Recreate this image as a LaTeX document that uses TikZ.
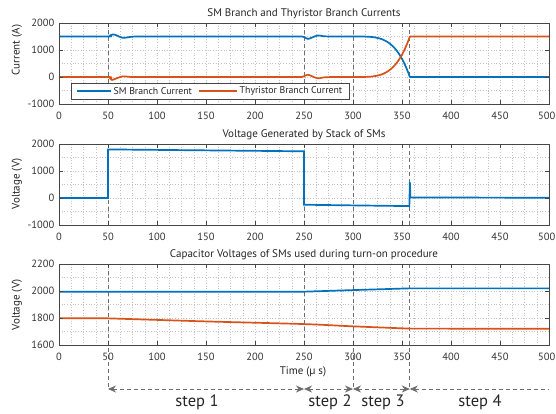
\documentclass[tikz,border=0pt]{standalone}
\usepackage{fontspec}
\setmainfont{PT Sans}
\usetikzlibrary{arrows.meta}
\definecolor{mblue}{RGB}{0,114,189}
\definecolor{morange}{RGB}{217,83,25}
\definecolor{axgray}{RGB}{70,70,70}
\definecolor{gridgray}{RGB}{195,195,195}
\definecolor{dashgray}{RGB}{110,110,110}
\newcommand\mygrid[2]{%
  \pgfmathsetmacro\dy{(#2-#1)/6}
  \foreach \i in {1,...,39} \draw[gridline] ({59+\i*12.25},#1) -- ({59+\i*12.25},#2);
  \foreach \j in {1,...,5} \draw[gridline] (59,{#1+\j*\dy}) -- (549,{#1+\j*\dy});
}
\newcommand\mybox[4]{%
  \pgfmathsetmacro\dy{(#2-#1)/6}
  \foreach \i in {1,...,9} {
    \draw[axline] ({59+\i*49},#1) -- ++(0,4);
    \draw[axline] ({59+\i*49},#2) -- ++(0,-4);}
  \foreach \j in {1,2} {
    \draw[axline] (59,{#1+2*\j*\dy}) -- ++(4,0);
    \draw[axline] (549,{#1+2*\j*\dy}) -- ++(-4,0);}
  \foreach \v [count=\k from 0] in {0,50,100,150,200,250,300,350,400,450}
    \node[ticklab, anchor=base] (#3x\k) at ({59+\k*49},{#2+15.5}) {\v};
  \node[ticklab, anchor=base east] (#3x10) at (555.5,{#2+15.5}) {500};
  \foreach \v [count=\k from 0] in {#4}
    \node[ticklab, anchor=east] (#3y\k) at (54.5,{#2-2*\k*\dy}) {\v};
  \draw[axline] (59,#1) rectangle (549,#2);
}
\begin{document}
\begin{tikzpicture}[x=1pt,y=-1pt,
  gridline/.style={draw=gridgray, line width=0.45pt, dash pattern=on 0.7pt off 2pt},
  axline/.style={draw=axgray, line width=0.7pt},
  vdash/.style={draw=dashgray, line width=0.8pt, dash pattern=on 4pt off 3pt},
  curve/.style={line width=1.7pt, line join=round},
  ticklab/.style={font=\fontsize{10.5}{12}\selectfont, text=black!80, inner sep=0pt},
  titlelab/.style={font=\fontsize{11}{13}\selectfont, text=black!85, inner sep=0pt},
  ylab/.style={font=\fontsize{11}{13}\selectfont, text=black!85, inner sep=0pt, rotate=90},
  leglab/.style={font=\fontsize{9.8}{11}\selectfont, text=black!85, inner sep=0pt, anchor=west},
  steplab/.style={font=\fontsize{16.5}{18}\selectfont, text=black!85, inner sep=0pt},
  steparrow/.style={draw=dashgray, line width=0.8pt, dash pattern=on 4pt off 3pt,
    arrows={-}, >={Stealth[length=8pt,width=7pt,fill=dashgray]}}
]
\useasboundingbox (0,0) rectangle (556,413);
\fill[white] (0,0) rectangle (556,413);

% ---------- grids ----------
\mygrid{23}{104}
\mygrid{144}{225}
\mygrid{264}{345}

% ---------- dashed step lines ----------
\foreach \t in {50,250,300,358} {
  \draw[vdash] ({59+0.98*\t},23) -- ({59+0.98*\t},104);
  \draw[vdash] ({59+0.98*\t},144) -- ({59+0.98*\t},225);
}
\coordinate (s0) at (108,389);
\coordinate (s1) at (304,389);
\coordinate (s2) at (353,389);
\coordinate (s3) at (409.8,389);
\coordinate (s4) at (549,389);
\draw[vdash] (108,264) -- (s0);
\draw[vdash] (304,264) -- (304,345);
\draw[vdash] (353,264) -- (s2);
\draw[vdash] (409.8,264) -- (s3);

% ---------- plot 1 curves ----------
\begin{scope}[shift={(59,77)}, xscale=0.98, yscale=-0.027]
  \draw[curve, mblue] plot[smooth, tension=0.5] coordinates {(0,1500) (50,1500) (52,1540) (55,1580) (59,1540) (65,1450) (72,1480) (80,1500) (120,1500)}
    -- (248,1500) plot[smooth, tension=0.5] coordinates {(248,1500) (250,1480) (254,1410) (258,1460) (264,1540) (270,1510) (278,1500)}
    -- (300,1500) -- plot[domain=300:358, samples=50] (\x,{1500*(1-((\x-300)/58)^4)}) -- (500,0);
  \draw[curve, morange] plot[smooth, tension=0.5] coordinates {(0,0) (50,0) (52,-50) (54,-110) (58,-60) (65,25) (72,5) (80,0) (120,0)}
    -- (248,0) plot[smooth, tension=0.5] coordinates {(248,0) (250,30) (254,85) (258,30) (264,-50) (270,-15) (278,0)}
    -- (300,0) -- plot[domain=300:358, samples=50] (\x,{1500*((\x-300)/58)^4}) -- (500,1500);
\end{scope}

% ---------- plot 2 curve ----------
\begin{scope}[shift={(59,198)}, xscale=0.98, yscale=-0.027]
  \draw[curve, mblue, line join=miter] (0,0) -- (50,0) -- (50,1800) -- (250,1730) -- (250,-250)
    -- (357.5,-300) -- (358,600) -- (358.6,20) -- (500,10);
\end{scope}

% ---------- plot 3 curves ----------
\begin{scope}[shift={(59,345)}, xscale=0.98, yscale=-0.1333]
  \draw[curve, mblue] (0,400) -- (250,400) plot[smooth, tension=0.4] coordinates {(250,400) (300,412) (358,425)} -- (500,425);
  \draw[curve, morange] (0,200) -- (50,200) plot[smooth, tension=0.5] coordinates {(50,200) (150,177) (250,157) (300,140) (358,123)} -- (500,122);
\end{scope}

% ---------- boxes, ticks, labels ----------
\mybox{23}{104}{a}{-1000,0,1000,2000}
\mybox{144}{225}{b}{-1000,0,1000,2000}
\mybox{264}{345}{c}{1600,1800,2000,2200}

\node[titlelab] (t1) at (304,13.5) {SM Branch and Thyristor Branch Currents};
\node[titlelab] (t2) at (304,135) {Voltage Generated by Stack of SMs};
\node[titlelab] (t3) at (304,255) {Capacitor Voltages of SMs used during turn-on procedure};
\node[ylab] (l1) at (17,50) {Current (A)};
\node[ylab] (l2) at (17,184) {Voltage (V)};
\node[ylab] (l3) at (17,305) {Voltage (V)};
\node[titlelab] (tx) at (303,372) {Time (µ s)};

% ---------- legend ----------
\node[draw=axgray, line width=0.6pt, fill=white, minimum width=278pt, minimum height=16pt, inner sep=0pt] (legend) at (210,91) {};
\coordinate (lb0) at (77,91); \coordinate (lb1) at (111,91);
\coordinate (lo0) at (199,91); \coordinate (lo1) at (237,91);
\draw[curve, mblue] (lb0) -- (lb1);
\node[leglab] (lbt) at (113.5,91) {SM Branch Current};
\draw[curve, morange] (lo0) -- (lo1);
\node[leglab] (lot) at (239.5,91) {Thyristor Branch Current};

% ---------- step arrows ----------
\draw[steparrow, <->] (s0) -- (s1);
\draw[steparrow, <->] (s1) -- (s2);
\draw[steparrow, <->] (s2) -- (s3);
\draw[steparrow, <-] (s3) -- (s4);
\node[steplab] (st1) at (197,402) {step 1};
\node[steplab] (st2) at (330,402) {step 2};
\node[steplab] (st3) at (383,402) {step 3};
\node[steplab] (st4) at (480,402) {step 4};
\end{tikzpicture}
\end{document}
